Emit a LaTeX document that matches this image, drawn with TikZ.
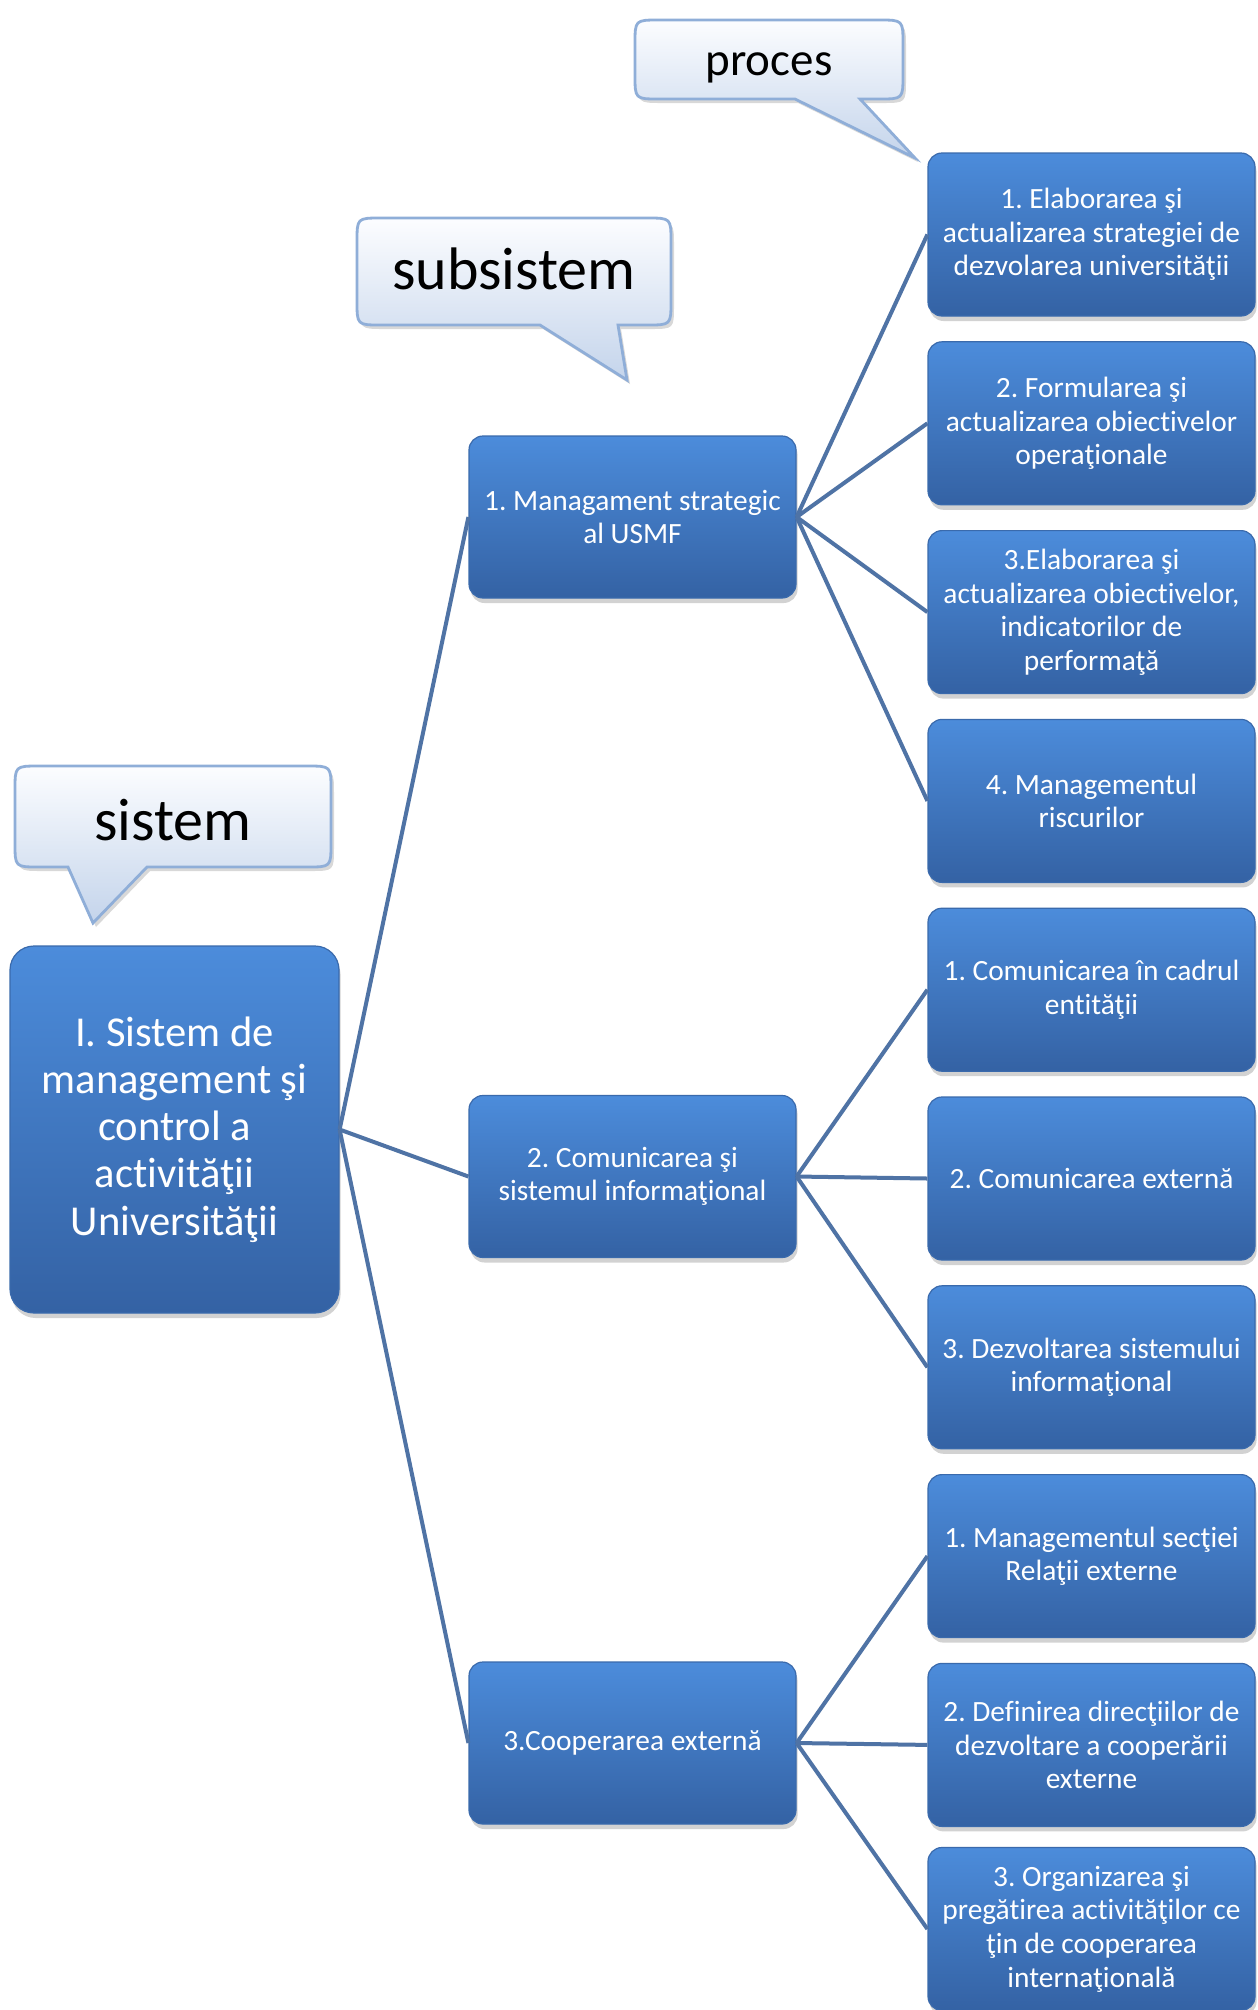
\documentclass[tikz,border=0pt]{standalone}
\usepackage{fontspec}
\setmainfont{Carlito}[Ligatures=NoCommon]
\usetikzlibrary{shadows}
\definecolor{boxtop}{RGB}{76,140,219}
\definecolor{boxbot}{RGB}{52,98,164}
\definecolor{boxedge}{RGB}{58,106,172}
\definecolor{linkc}{RGB}{79,115,165}
\definecolor{calltop}{RGB}{252,253,255}
\definecolor{callbot}{RGB}{196,212,235}
\definecolor{calledge}{RGB}{143,174,216}
\tikzset{
  box/.style={rectangle, rounded corners=7pt, top color=boxtop, bottom color=boxbot,
    draw=boxedge, line width=0.6pt, text=white, align=center, inner sep=2pt,
    drop shadow={opacity=0.35, shadow xshift=0.8pt, shadow yshift=-2.5pt}},
  leaf/.style={box, minimum width=163.5pt, minimum height=81.5pt, font=\fontsize{14.7}{16.8}\selectfont},
  midbox/.style={box, minimum width=163.5pt, minimum height=81pt, font=\fontsize{14.7}{16.8}\selectfont},
  rootbox/.style={box, rounded corners=12pt, minimum width=164.5pt, minimum height=183.5pt, font=\fontsize{21.3}{23.6}\selectfont},
  link/.style={draw=linkc, line width=2pt},
  callout/.style={top color=calltop, bottom color=callbot, draw=calledge, line width=1.4pt,
    drop shadow={opacity=0.3, shadow xshift=1.5pt, shadow yshift=-2pt}},
  calltext/.style={text=black, inner sep=0pt},
}
\newcommand\mycallout[8]{%
  \path[callout] ({#1+24},#2) -- ({#3-24},#2) .. controls (#3,#2) .. (#3,{#2+24})
    -- (#3,{#4-24}) .. controls (#3,#4) .. ({#3-24},#4) -- (#6,#4) -- (#7,#8) -- (#5,#4)
    -- ({#1+24},#4) .. controls (#1,#4) .. (#1,{#4-24}) -- (#1,{#2+24})
    .. controls (#1,#2) .. ({#1+24},#2) -- cycle;}
\begin{document}
\frenchspacing
\begin{tikzpicture}[x=0.5pt, y=-0.5pt]
\path[use as bounding box, fill=white] (0,0) rectangle (1258,2010);

% callouts
\mycallout{635}{20}{903}{99}{795}{860}{915}{158}
\node[calltext, font=\fontsize{23.5}{28}\selectfont] (tproces) at (769,68) {proces};
\mycallout{357}{218}{671}{325}{540}{618}{627}{380}
\node[calltext, font=\fontsize{30}{36}\selectfont] (tsub) at (514,269) {subsistem};
\mycallout{15}{766}{331}{867}{68}{147}{93}{923}
\node[calltext, font=\fontsize{30}{36}\selectfont] (tsis) at (173,820) {sistem};

% root
\node[rootbox] (L) at (174.5,1129.5) {I. Sistem de\\management şi\\control a\\activităţii\\Universităţii};

% middle
\node[midbox] (M1) at (632.5,517) {1. Managament strategic\\al USMF};
\node[midbox] (M2) at (632.5,1176.5) {2. Comunicarea şi\\sistemul informaţional};
\node[midbox] (M3) at (632.5,1743) {3.Cooperarea externă};

% leaves
\node[leaf] (R1) at (1091.5,234.5) {1. Elaborarea şi\\actualizarea strategiei de\\dezvolarea universităţii};
\node[leaf] (R2) at (1091.5,423.3) {2. Formularea şi\\actualizarea obiectivelor\\operaţionale};
\node[leaf] (R3) at (1091.5,612.1) {3.Elaborarea şi\\actualizarea obiectivelor,\\indicatorilor de\\performaţă};
\node[leaf] (R4) at (1091.5,800.9) {4. Managementul\\riscurilor};
\node[leaf] (R5) at (1091.5,989.7) {1. Comunicarea în cadrul\\entităţii};
\node[leaf] (R6) at (1091.5,1178.5) {2. Comunicarea externă};
\node[leaf] (R7) at (1091.5,1367.3) {3. Dezvoltarea sistemului\\informaţional};
\node[leaf] (R8) at (1091.5,1556.1) {1. Managementul secţiei\\Relaţii externe};
\node[leaf] (R9) at (1091.5,1744.9) {2. Definirea direcţiilor de\\dezvoltare a cooperării\\externe};
\node[leaf] (R10) at (1091.5,1929) {3. Organizarea şi\\pregătirea activităţilor ce\\ţin de cooperarea\\internaţională};

% connectors
\foreach \m in {M1,M2,M3} \draw[link] (L.east) -- (\m.west);
\foreach \r in {R1,R2,R3,R4} \draw[link] (M1.east) -- (\r.west);
\foreach \r in {R5,R6,R7} \draw[link] (M2.east) -- (\r.west);
\foreach \r in {R8,R9,R10} \draw[link] (M3.east) -- (\r.west);
\end{tikzpicture}
\end{document}
